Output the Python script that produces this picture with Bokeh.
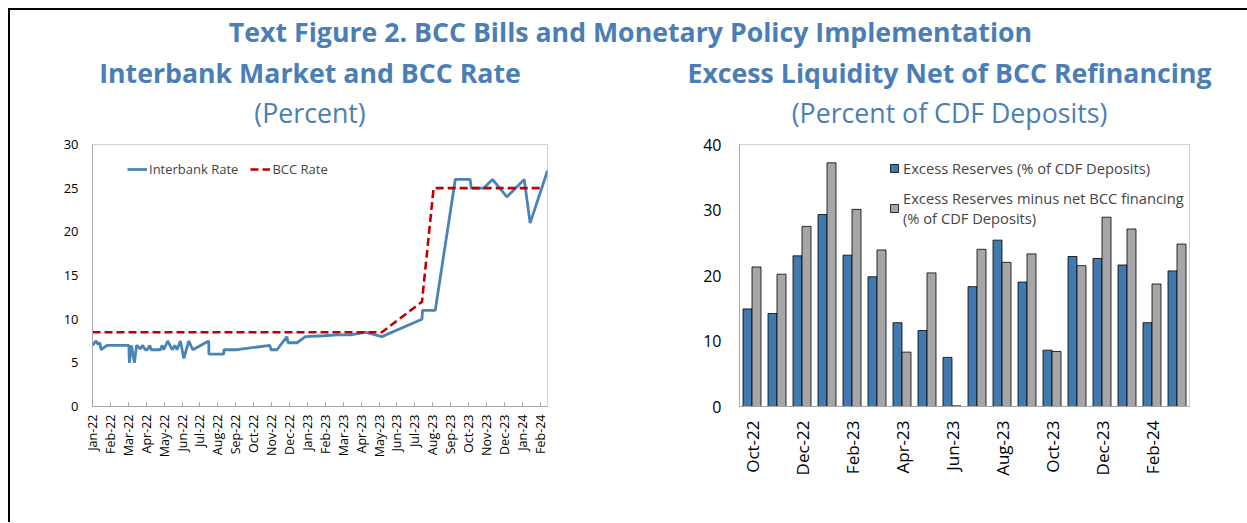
import math
from bokeh.plotting import figure
from bokeh.models import (ColumnDataSource, FixedTicker, Legend, LegendItem, Div, Range1d)
from bokeh.layouts import column, row
from bokeh.embed import file_html
from bokeh.resources import INLINE

# ---------------- data ----------------
month_labels = ["Jan-22", "Feb-22", "Mar-22", "Apr-22", "May-22", "Jun-22", "Jul-22",
                "Aug-22", "Sep-22", "Oct-22", "Nov-22", "Dec-22", "Jan-23", "Feb-23",
                "Mar-23", "Apr-23", "May-23", "Jun-23", "Jul-23", "Aug-23", "Sep-23",
                "Oct-23", "Nov-23", "Dec-23", "Jan-24", "Feb-24"]

# time in months since Jan-22
ib_month = [0.00, 0.20, 0.32, 0.41, 0.48, 0.82, 2.03, 2.06, 2.18, 2.34, 2.46, 2.68,
            2.79, 2.95, 3.05, 3.20, 3.27, 3.79, 3.89, 3.98, 4.20, 4.45, 4.60, 4.72,
            4.91, 5.10, 5.38, 5.60, 6.49, 6.50, 7.33, 7.34, 8.07, 9.90, 9.97, 10.30,
            10.86, 10.92, 11.42, 11.89, 12.91, 13.65, 14.40, 15.23, 16.16, 18.40,
            18.43, 19.14, 20.26, 21.09, 21.15, 21.84, 22.34, 23.14, 24.11, 24.44, 25.41]
ib_rate = [7.0, 7.5, 7.1, 7.3, 6.5, 7.0, 7.0, 5.0, 7.0, 5.0, 7.0, 6.6,
           7.0, 6.5, 6.5, 7.0, 6.5, 6.5, 7.0, 6.5, 7.5, 6.5, 7.0, 6.5,
           7.5, 5.5, 7.5, 6.5, 7.5, 6.0, 6.0, 6.5, 6.5, 7.0, 6.5, 6.5,
           8.0, 7.3, 7.3, 8.0, 8.1, 8.2, 8.2, 8.5, 8.0, 10.0,
           11.0, 11.0, 26.0, 26.0, 25.0, 25.0, 26.0, 24.0, 26.0, 21.0, 27.0]

bcc_month = [0.0, 16.16, 18.40, 19.05, 25.20]
bcc_rate = [8.5, 8.5, 12.0, 25.0, 25.0]

bar_months = ["Oct-22", "Nov-22", "Dec-22", "Jan-23", "Feb-23", "Mar-23", "Apr-23",
              "May-23", "Jun-23", "Jul-23", "Aug-23", "Sep-23", "Oct-23", "Nov-23",
              "Dec-23", "Jan-24", "Feb-24", "Mar-24"]
excess_reserves = [14.9, 14.2, 23.0, 29.3, 23.1, 19.8, 12.8, 11.6, 7.5, 18.3,
                   25.4, 19.0, 8.6, 22.9, 22.6, 21.6, 12.8, 20.7]
excess_net_bcc = [21.3, 20.2, 27.5, 37.2, 30.1, 23.9, 8.3, 20.4, 0.1, 24.0,
                  22.0, 23.3, 8.4, 21.5, 28.9, 27.1, 18.7, 24.8]

# ---------------- styles ----------------
FONT = "Open Sans"
TITLE_BLUE = "#4A7EB4"
LINE_BLUE = "#4A84B6"
BAR_BLUE = "#4279AE"
BAR_GREY = "#A6A6A9"
RED = "#C00000"
AXIS_GREY = "#A6A6A6"

# ---------------- left chart ----------------
p1 = figure(width=630, height=353, x_range=Range1d(0, 25.41), y_range=Range1d(0, 30),
            output_backend="svg", toolbar_location=None,
            min_border_left=82, min_border_right=93, min_border_top=11, min_border_bottom=80)
r_ib = p1.line(ib_month, ib_rate, line_width=2.8, color=LINE_BLUE)
r_bcc = p1.line(bcc_month, bcc_rate, line_width=2.6, color=RED, line_dash="8 4")

p1.xgrid.visible = False
p1.ygrid.visible = False
p1.outline_line_color = "#D0D0D0"
p1.xaxis.ticker = FixedTicker(ticks=list(range(len(month_labels))))
p1.xaxis.major_label_overrides = {i: lab for i, lab in enumerate(month_labels)}
p1.xaxis.major_label_orientation = math.pi / 2
p1.yaxis.ticker = FixedTicker(ticks=[0, 5, 10, 15, 20, 25, 30])
for ax in (p1.xaxis[0], p1.yaxis[0]):
    ax.axis_line_color = AXIS_GREY
    ax.minor_tick_line_color = None
    ax.major_label_text_font = FONT
    ax.major_label_text_color = "#000000"
p1.xaxis.major_label_text_font_size = "12.5px"
p1.yaxis.major_label_text_font_size = "13px"
p1.xaxis.major_tick_in = 4
p1.xaxis.major_tick_out = 0
p1.xaxis.major_tick_line_color = AXIS_GREY
p1.xaxis.major_label_standoff = 8
p1.yaxis.major_tick_line_color = None
p1.yaxis.major_tick_in = 0
p1.yaxis.major_tick_out = 0
p1.yaxis.major_label_standoff = 14

leg1 = Legend(items=[LegendItem(label="Interbank Rate", renderers=[r_ib]),
                     LegendItem(label="BCC Rate", renderers=[r_bcc])],
              orientation="horizontal", location=(35, 228),
              padding=0, margin=0, spacing=12, label_standoff=2,
              glyph_width=20, glyph_height=18, label_height=18,
              label_text_font=FONT, label_text_font_size="13px",
              border_line_color=None, background_fill_alpha=0)
p1.add_layout(leg1)

# ---------------- right chart ----------------
bar_pos = [i + 1 for i in range(len(bar_months))]
src = ColumnDataSource(dict(
    xb=[x - 0.18 for x in bar_pos], xg=[x + 0.18 for x in bar_pos],
    er=excess_reserves, en=excess_net_bcc))
p2 = figure(width=599, height=353, x_range=Range1d(0.5, len(bar_months) + 0.5),
            y_range=Range1d(0, 40), output_backend="svg", toolbar_location=None,
            min_border_left=99, min_border_right=50, min_border_top=9, min_border_bottom=79)
r_er = p2.vbar(x="xb", top="er", width=0.36, source=src,
               fill_color=BAR_BLUE, line_color="#000000", line_width=0.8)
r_en = p2.vbar(x="xg", top="en", width=0.36, source=src,
               fill_color=BAR_GREY, line_color="#000000", line_width=0.8)
p2.xgrid.visible = False
p2.ygrid.visible = False
p2.outline_line_color = "#D0D0D0"
p2.yaxis.ticker = FixedTicker(ticks=[0, 10, 20, 30, 40])
p2.xaxis.ticker = FixedTicker(ticks=bar_pos[::2])
p2.xaxis.major_label_overrides = {bar_pos[i]: bar_months[i] for i in range(0, len(bar_months), 2)}
p2.xaxis.major_label_orientation = math.pi / 2
for ax in (p2.xaxis[0], p2.yaxis[0]):
    ax.axis_line_color = AXIS_GREY
    ax.major_tick_line_color = None
    ax.major_tick_in = 0
    ax.major_tick_out = 0
    ax.minor_tick_line_color = None
    ax.major_label_text_font = FONT
    ax.major_label_text_color = "#000000"
p2.xaxis.major_label_text_font_size = "17px"
p2.yaxis.major_label_text_font_size = "16px"
p2.xaxis.major_label_standoff = 14
p2.yaxis.major_label_standoff = 18

leg2 = Legend(items=[LegendItem(label="Excess Reserves (% of CDF Deposits)", renderers=[r_er]),
                     LegendItem(label="Excess Reserves minus net BCC financing\n(% of CDF Deposits)",
                                renderers=[r_en])],
              location=(150, 178), padding=0, margin=0, spacing=10, label_standoff=4,
              glyph_width=10, glyph_height=10, label_height=20,
              label_text_font=FONT, label_text_font_size="14.7px",
              label_text_line_height=1.45,
              border_line_color=None, background_fill_alpha=0)
p2.add_layout(leg2)

# ---------------- titles ----------------
def txt(s, width, size, weight, shift, lh):
    return (f'<div style="position:relative;left:{shift}px;width:{width}px;text-align:center;'
            f'font-family:\'{FONT}\';font-size:{size}px;font-weight:{weight};'
            f'color:{TITLE_BLUE};line-height:{lh}px;white-space:nowrap">{s}</div>')

head = Div(text=txt("Text Figure 2. BCC Bills and Monetary Policy Implementation",
                    1229, 26.7, "bold", 6, 43), width=1237, height=43, margin=0)
subL = Div(text=txt("Interbank Market and BCC Rate", 630, 26.7, "bold", -15, 40) +
           txt("(Percent)", 630, 26.7, "normal", -15, 40), width=630, height=80, margin=0)
subR = Div(text=txt("Excess Liquidity Net of BCC Refinancing", 599, 26.7, "bold", 10, 40) +
           txt("(Percent of CDF Deposits)", 599, 26.7, "normal", 10, 40),
           width=599, height=80, margin=0)
spacer = Div(text="", width=10, height=36, margin=0)

layout = column(head, row(subL, subR), row(p1, p2), spacer, margin=(8, 0, 0, 8),
                styles={"border-top": "2px solid black", "border-left": "2px solid black"})

open("out.html", "w").write(file_html(layout, INLINE))
